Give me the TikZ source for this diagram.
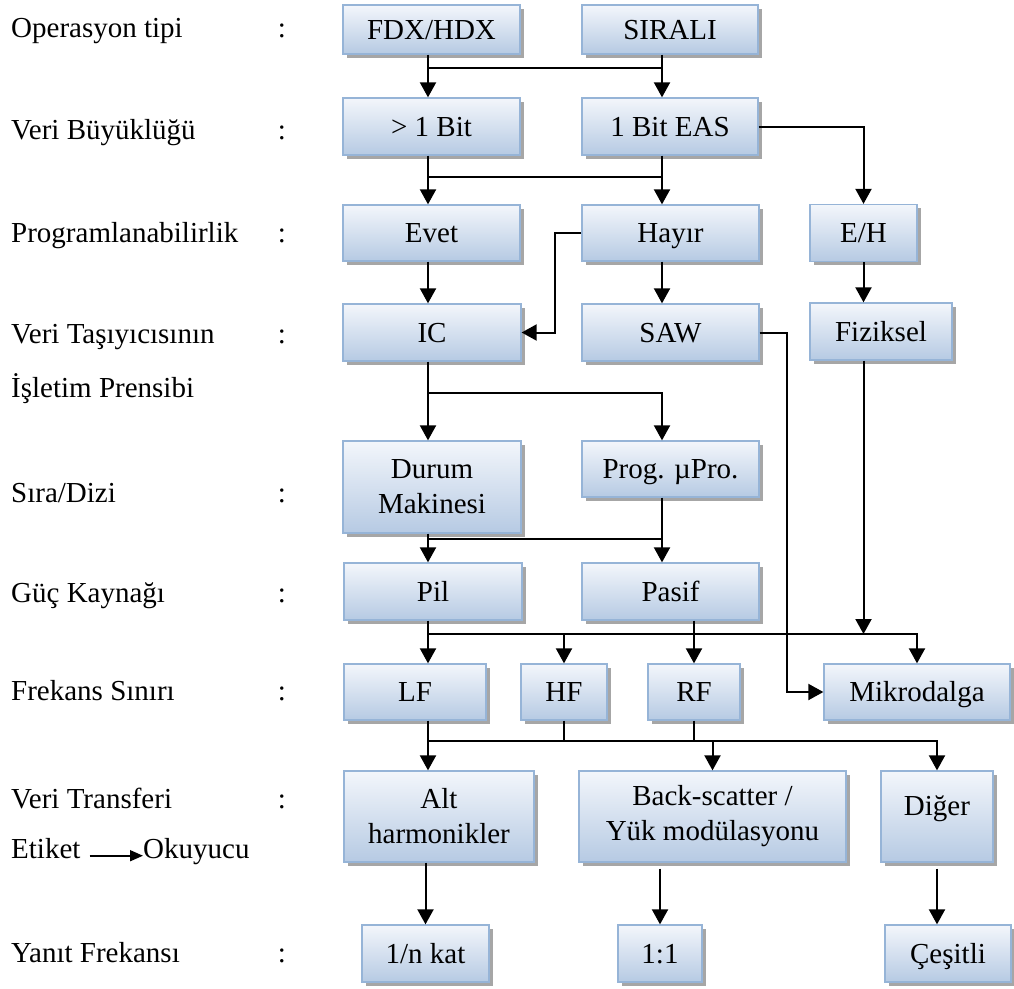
\documentclass[tikz,border=0pt]{standalone}
\usepackage{fontspec}
\setmainfont{Liberation Serif}
\usetikzlibrary{arrows.meta,shadows}
\definecolor{boxtop}{RGB}{243,246,251}
\definecolor{boxbot}{RGB}{182,202,227}
\definecolor{boxline}{RGB}{150,180,215}
\definecolor{shadowgray}{RGB}{150,150,150}

\begin{document}
\begin{tikzpicture}[x=1pt,y=-1pt,
  font=\fontsize{29pt}{35pt}\selectfont,
  boxbase/.style={rectangle, draw=boxline, line width=1.3pt,
    top color=boxtop, bottom color=boxbot, inner sep=0pt, align=center,
    drop shadow={shadow xshift=3.5pt, shadow yshift=-3.5pt, fill=shadowgray, opacity=0.85}},
  box/.style={boxbase, text height=19pt, text depth=0pt},
  box2/.style={boxbase},
  conn/.style={line width=2pt, black},
  arr/.style={conn, -{Triangle[width=16pt,length=15pt]}},
  lbl/.style={anchor=base west, inner sep=0pt},
  colon/.style={anchor=base, inner sep=0pt}]
\useasboundingbox (0,0) rectangle (1014,988);

% row captions
\node[lbl] (lop)  at (11,37)  {Operasyon tipi};
\node[lbl] (lvb)  at (11,139) {Veri Büyüklüğü};
\node[lbl] (lpr)  at (11,242) {Programlanabilirlik};
\node[lbl] (lvt)  at (11,343) {Veri Taşıyıcısının};
\node[lbl] (lis)  at (11,397) {İşletim Prensibi};
\node[lbl] (lsd)  at (11,502) {Sıra/Dizi};
\node[lbl] (lgk)  at (11,602) {Güç Kaynağı};
\node[lbl] (lfs)  at (11,700) {Frekans Sınırı};
\node[lbl] (lvtr) at (11,808) {Veri Transferi};
\node[lbl] (etk)  at (11,858) {Etiket};
\node[lbl] (oku)  at (143,858) {Okuyucu};
\node[lbl] (lyf)  at (11,962) {Yanıt Frekansı};
\draw[conn, line width=1.6pt, -{Triangle[width=11pt,length=13pt]}, shorten <=9pt]
  (etk.mid east) -- (oku.mid west);

\foreach \yy/\nm in {37/c1,139/c2,242/c3,343/c4,502/c5,602/c6,700/c7,808/c8,962/c9}
  \node[colon] (\nm) at (282,\yy) {:};

% boxes
\node[box, minimum width=177pt, minimum height=49pt] (fdx)   at (431.5,29.5) {FDX/HDX};
\node[box, minimum width=176pt, minimum height=49pt] (sir)   at (670,29.5)   {SIRALI};
\node[box, minimum width=177pt, minimum height=57pt] (gt1)   at (431.5,126.5) {> 1 Bit};
\node[box, minimum width=176pt, minimum height=57pt] (eas)   at (670,126.5)  {1 Bit EAS};
\node[box, minimum width=177pt, minimum height=56pt] (evet)  at (431.5,233)  {Evet};
\node[box, minimum width=177pt, minimum height=56pt] (hayir) at (670.5,233)  {Hayır};
\node[box, minimum width=107pt, minimum height=57pt] (eh)    at (863.5,233)  {E/H};
\node[box, minimum width=178pt, minimum height=57pt] (ic)    at (432,332.5)  {IC};
\node[box, minimum width=177pt, minimum height=57pt] (saw)   at (670.5,332.5) {SAW};
\node[box, minimum width=142pt, minimum height=57pt] (fiz)   at (881,331.5)  {Fiziksel};
\node[box2, minimum width=178pt, minimum height=92pt] (durum) at (432,487)   {Durum\\Makinesi};
\node[box, minimum width=177pt, minimum height=56pt] (prog)  at (670.5,469)  {Prog. µPro.};
\node[box, minimum width=178pt, minimum height=57pt] (pil)   at (433,591.5)  {Pil};
\node[box, minimum width=177pt, minimum height=57pt] (pasif) at (670.5,591.5) {Pasif};
\node[box, minimum width=142pt, minimum height=56pt] (lf)    at (415,692)    {LF};
\node[box, minimum width=86pt,  minimum height=56pt] (hf)    at (564,692)    {HF};
\node[box, minimum width=92pt,  minimum height=56pt] (rf)    at (694,692)    {RF};
\node[box, minimum width=186pt, minimum height=56pt] (mik)   at (917,692)    {Mikrodalga};
\node[box2, minimum width=190pt, minimum height=91pt] (alt)  at (439,816.5)  {Alt\\harmonikler};
\node[box2, minimum width=267pt, minimum height=91pt] (bs)   at (712.5,816.5) {Back-scatter /\\Yük modülasyonu};
\node[box, minimum width=112pt, minimum height=91pt, text depth=22pt] (dig) at (937,816.5) {Diğer};
\node[box, minimum width=127pt, minimum height=57pt] (onen)  at (425.5,953.5) {1/n kat};
\node[box, minimum width=84pt,  minimum height=57pt] (one)   at (660,953.5)  {1:1};
\node[box, minimum width=126pt, minimum height=57pt] (ces)   at (948,953.5)  {Çeşitli};

% routing columns and bus levels
\coordinate (colA) at (428,0);
\coordinate (colB) at (662,0);
\coordinate (colH) at (555,0);
\coordinate (colS) at (787,0);
\coordinate (hA) at (0,68);
\coordinate (hB) at (0,177);
\coordinate (hC) at (0,393);
\coordinate (hD) at (0,539);
\coordinate (hE) at (0,634);
\coordinate (hF) at (0,741);

% connectors
\draw[conn] (colA|-fdx.south) -- (colA|-hA) -- (colB|-hA);
\draw[arr] (colA|-hA) -- (colA|-gt1.north);
\draw[arr] (colB|-sir.south) -- (colB|-eas.north);

\draw[arr] (colA|-gt1.south) -- (colA|-evet.north);
\draw[arr] (colB|-eas.south) -- (colB|-hayir.north);
\draw[conn] (colA|-hB) -- (colB|-hB);
\draw[arr] (eas.east) -| (eh.north);

\draw[arr] (colA|-evet.south) -- (colA|-ic.north);
\draw[arr] (hayir.west) -- (colH|-hayir.west) |- (ic.east);
\draw[arr] (colB|-hayir.south) -- (colB|-saw.north);
\draw[arr] (eh.south) -- (eh.south|-fiz.north);

\draw[arr] (colA|-ic.south) -- (colA|-durum.north);
\draw[arr] (colA|-hC) -| (colB|-prog.north);

\draw[arr] (colA|-durum.south) -- (colA|-pil.north);
\draw[arr] (colB|-prog.south) -- (colB|-pasif.north);
\draw[conn] (colA|-hD) -- (colB|-hD);

\draw[arr] (saw.east) -- (colS|-saw.east) |- (mik.west);
\draw[arr] (eh.south|-fiz.south) -- (eh.south|-hE);

\draw[arr] (colA|-pil.south) -- (colA|-lf.north);
\draw[arr] (colA|-hE) -| (mik.north);
\draw[arr] (hf.north|-hE) -- (hf.north);
\draw[arr] (rf.north|-pasif.south) -- (rf.north);

\draw[arr] (colA|-lf.south) -- (colA|-alt.north);
\draw[arr] (colA|-hF) -| (dig.north);
\draw[conn] (hf.south) -- (hf.south|-hF);
\draw[conn] (rf.south) -- (rf.south|-hF);
\draw[arr] (bs.north|-hF) -- (bs.north);

\draw[arr] (onen.north|-alt.south) -- (onen.north);
\draw[arr, shorten <=6pt] (one.north|-bs.south) -- (one.north);
\draw[arr, shorten <=6pt] (dig.south) -- (dig.south|-ces.north);
\end{tikzpicture}
\end{document}
